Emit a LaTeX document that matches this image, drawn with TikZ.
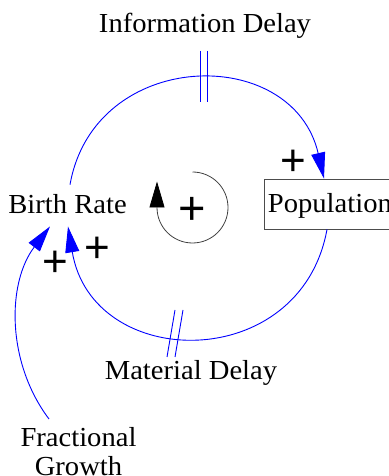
\documentclass[tikz,border=0pt]{standalone}
\usepackage{fontspec}
\setmainfont{Liberation Serif}[FakeStretch=1.04]
\newfontfamily\plusfont{Liberation Sans}
\usetikzlibrary{arrows.meta}
\begin{document}
\begin{tikzpicture}[x=1pt,y=1pt,
  lbl/.style={font=\fontsize{27.5}{29}\selectfont, inner sep=0pt},
  link/.style={draw=blue, line width=0.9pt, -{Triangle[length=26pt,width=14pt]}},
  delaymark/.style={draw=blue, line width=0.9pt},
  sgn/.style={font=\plusfont\fontsize{44}{44}\selectfont, inner sep=0pt, yshift=-2.6pt},
  loopline/.style={draw=black!75, line width=0.8pt, -{Triangle[length=26pt,width=15pt,black]}}
]
\useasboundingbox (0,0) rectangle (388,476);

% variables
\node[lbl, anchor=base] (info) at (205,443) {Information Delay};
\node[lbl, anchor=base, inner ysep=12pt] (br) at (67.5,262) {Birth Rate};
\node[lbl, draw=black!70, line width=0.8pt, anchor=base west, inner xsep=3.5pt,
      inner ysep=0pt, text height=34pt, text depth=16pt] (pop) at (264,263) {Population};
\node[lbl, anchor=base] (md) at (191,96) {Material Delay};
\node[lbl, anchor=north, align=center] (fg) at (78.5,48.5) {Fractional\\Growth};

% links
\draw[link] ([shift={(2.5,-2)}]br.north) .. controls +(80:139) and +(103:139) .. ([xshift=60pt]pop.north west);
\draw[link] ([xshift=63pt]pop.south west) .. controls +(-100.3:147.6) and +(279.5:147.6) .. ([xshift=0.5pt]br.south);
\draw[link] ([shift={(-29.5,8.5)}]fg.north) .. controls +(127:71) and +(232.6:71) .. ([xshift=-17.5pt]br.south);

% delay marks
\draw[delaymark] (200,425) -- (200,374) (207,425) -- (207,374);
\draw[delaymark] (175,166) -- (167,119) (183,166) -- (175,119);

% loop symbol
\coordinate (lc) at (192.5,268.5);
\draw[loopline] ([yshift=35.5pt]lc) arc[start angle=90, end angle=-180, radius=35.5] -- ++(0,26);
\node[sgn, font=\plusfont\fontsize{47}{47}\selectfont] (lp) at (192,268) {+};

% polarities
\node[sgn] (p1) at (293.5,316) {+};
\node[sgn] (p2) at (55,214.5) {+};
\node[sgn] (p3) at (97,229) {+};
\end{tikzpicture}
\end{document}
